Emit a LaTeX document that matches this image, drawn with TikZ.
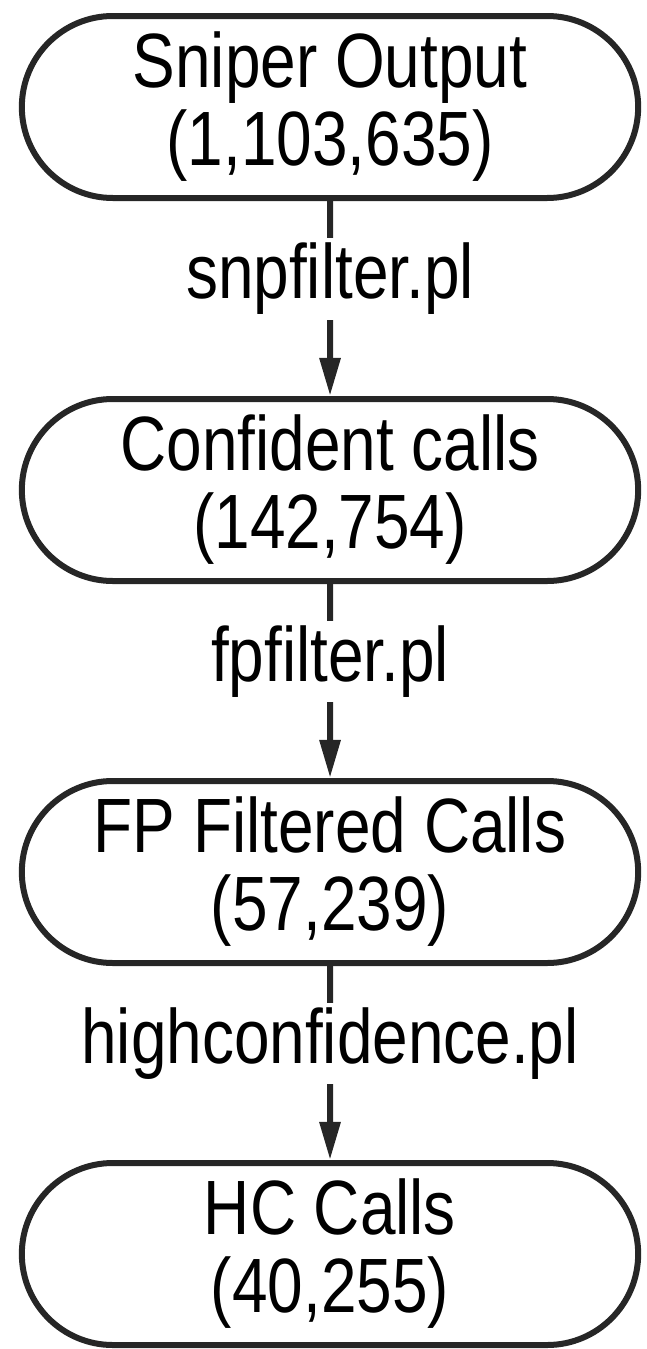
\documentclass[tikz,border=0pt]{standalone}
\usepackage{fontspec}
\setmainfont{Liberation Sans}[FakeStretch=0.83]
\usetikzlibrary{shapes.misc,arrows.meta}

\begin{document}
\begin{tikzpicture}[x=1pt,y=1pt,
  callbox/.style={rounded rectangle, draw=black!85, line width=6pt, minimum width=623pt, minimum height=182pt, align=center, font=\fontsize{77}{78}\selectfont},
  scriptlbl/.style={fill=white, inner sep=5pt, font=\fontsize{77}{78}\selectfont},
  flow/.style={draw=black!85, line width=6pt, -{Triangle[length=38pt,width=20pt]}}]
\useasboundingbox (0,0) rectangle (646,-1349);
\node[callbox] (sniper) at (330,-107) {Sniper Output\\(1,103,635)};
\node[callbox] (confident) at (330,-490) {Confident calls\\(142,754)};
\node[callbox] (fpfiltered) at (330,-872) {FP Filtered Calls\\(57,239)};
\node[callbox] (hccalls) at (330,-1254) {HC Calls\\(40,255)};
\draw[flow] (sniper) -- node[scriptlbl, pos=0.4] {snpfilter.pl} (confident);
\draw[flow] (confident) -- node[scriptlbl, pos=0.4] {fpfilter.pl} (fpfiltered);
\draw[flow] (fpfiltered) -- node[scriptlbl, pos=0.4] {highconfidence.pl} (hccalls);
\end{tikzpicture}
\end{document}
